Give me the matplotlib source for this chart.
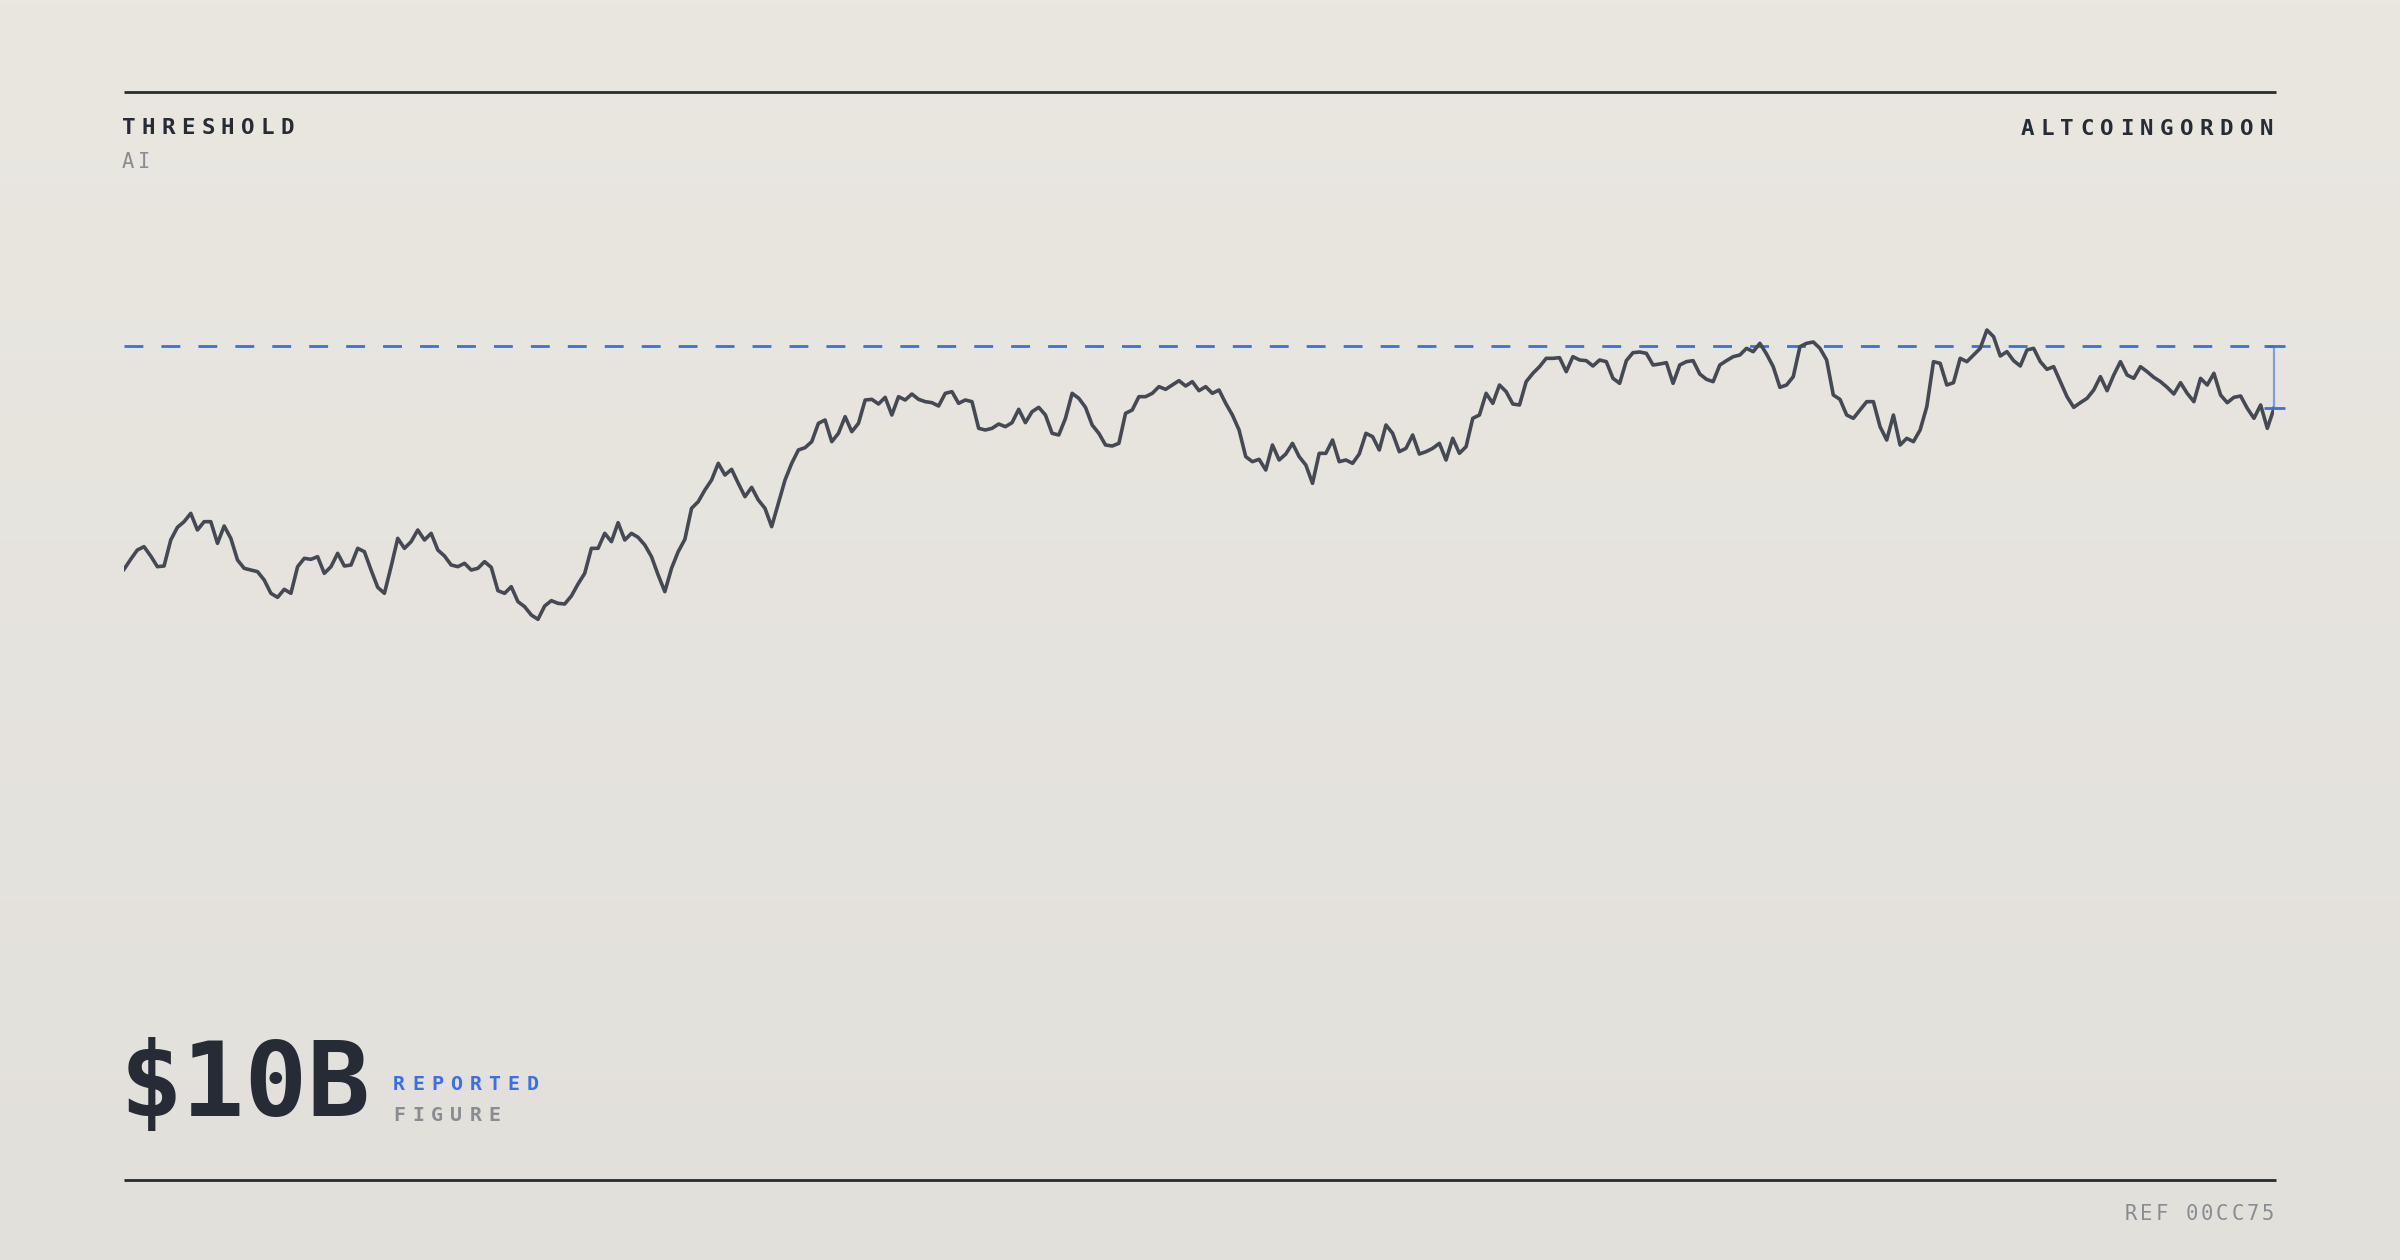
import numpy as np
import matplotlib
matplotlib.use("Agg")
import matplotlib.pyplot as plt

# series (arbitrary level units, threshold dashed line)
level = [
    21.2, 24.2, 27.0, 28.0, 25.2, 22.0, 22.2, 30.0, 33.8, 35.5, 38.0, 33.0, 35.5, 35.5, 29.0, 34.2, 30.5, 24.0,
    21.5, 21.0, 20.5, 18.0, 14.0, 12.8, 15.2, 14.0, 22.0, 24.5, 24.2, 25.0, 20.0, 22.0, 26.0, 22.2, 22.5, 27.5,
    26.5, 21.0, 15.8, 14.0, 22.0, 30.5, 27.5, 29.5, 33.0, 30.0, 32.0, 27.0, 25.2, 22.5, 22.0, 23.0, 21.0, 21.5,
    23.5, 21.8, 14.8, 14.0, 16.0, 11.5, 10.0, 7.5, 6.2, 10.2, 11.8, 11.0, 10.8, 13.2, 16.8, 20.0, 27.5, 27.5,
    32.0, 29.5, 35.2, 30.0, 32.0, 30.8, 28.5, 25.0, 19.5, 14.5, 21.5, 26.5, 30.2, 39.5, 41.5, 45.0, 48.0, 53.0,
    49.5, 51.2, 47.0, 43.0, 45.8, 42.0, 39.5, 34.0, 41.0, 48.0, 53.0, 57.0, 57.7, 59.5, 65.0, 66.0, 59.5, 62.0,
    67.0, 62.5, 65.0, 72.0, 72.2, 70.8, 72.8, 67.5, 73.0, 72.0, 73.8, 72.2, 71.5, 71.2, 70.2, 74.0, 74.5, 71.0,
    72.0, 71.5, 63.5, 63.0, 63.5, 64.8, 64.0, 65.2, 69.2, 65.2, 68.5, 69.8, 67.5, 62.0, 61.5, 66.5, 74.0, 72.5,
    69.8, 64.5, 62.0, 58.5, 58.2, 59.0, 68.0, 69.0, 73.0, 73.0, 74.0, 76.0, 75.2, 76.5, 77.8, 76.2, 77.5, 74.8,
    76.0, 74.0, 75.0, 71.0, 67.5, 63.0, 55.0, 53.5, 54.2, 51.0, 58.5, 54.0, 55.8, 59.0, 55.0, 52.5, 47.0, 56.0,
    56.0, 60.0, 53.5, 54.0, 53.0, 55.8, 62.0, 61.0, 57.0, 64.5, 62.0, 56.5, 57.5, 61.5, 55.8, 56.5, 57.5, 59.0,
    54.0, 60.5, 56.0, 58.0, 66.5, 67.5, 74.0, 71.0, 76.5, 74.5, 70.8, 70.5, 77.5, 80.0, 82.0, 84.5, 84.5, 84.7,
    80.5, 85.0, 84.0, 83.8, 82.2, 84.0, 83.5, 78.5, 77.0, 83.8, 86.2, 86.4, 86.0, 82.5, 82.8, 83.2, 77.0, 82.5,
    83.5, 83.8, 79.8, 78.2, 77.5, 82.5, 83.8, 85.0, 85.5, 87.5, 86.5, 89.0, 85.8, 82.0, 75.8, 76.5, 79.0, 88.0,
    89.0, 89.4, 87.5, 84.0, 73.5, 72.2, 67.5, 66.5, 69.0, 71.5, 71.5, 64.0, 60.0, 67.5, 58.5, 60.5, 59.5, 63.0,
    70.0, 83.5, 83.0, 76.5, 77.2, 84.5, 83.5, 85.5, 87.5, 93.0, 91.0, 85.2, 86.5, 83.8, 82.2, 87.0, 87.5, 83.5,
    81.2, 82.0, 77.5, 73.0, 69.8, 71.2, 72.5, 75.0, 79.0, 74.8, 79.5, 83.5, 79.5, 78.5, 82.0, 80.5, 78.8, 77.5,
    75.8, 73.8, 77.2, 74.0, 71.5, 78.5, 76.5, 80.0, 73.5, 71.2, 72.8, 73.2, 69.5, 66.5, 70.5, 63.5, 69.5,
]
threshold = 88.2

title_left = "THRESHOLD"
subtitle_left = "AI"
title_right = "ALTCOINGORDON"
big_value = "$10B"
value_label_1 = "REPORTED"
value_label_2 = "FIGURE"
ref_label = "REF 00CC75"

W, H, DPI = 2400, 1260, 200
INK = "#272b36"
LINE = "#454954"
BLUE = "#3b6fe3"
GREY = "#8a8c93"
MONO = "DejaVu Sans Mono"

fig = plt.figure(figsize=(W / DPI, H / DPI), dpi=DPI)

# background gradient
bg = fig.add_axes([0, 0, 1, 1], zorder=0)
top = np.array([234, 231, 225]) / 255
bot = np.array([226, 224, 219]) / 255
t = np.linspace(0, 1, 256)[:, None]
grad = top[None, :] * (1 - t) + bot[None, :] * t
bg.imshow(grad[:, None, :], aspect="auto", extent=[0, 1, 0, 1])
bg.set_axis_off()

# rules top and bottom
for ypix in (92, 1180):
    bg.plot([124 / W, 2276 / W], [1 - ypix / H, 1 - ypix / H], color=INK, lw=1.0, solid_capstyle="butt")
bg.set_xlim(0, 1)
bg.set_ylim(0, 1)


def tracked(x_px, y_px, s, size, pitch, color, weight="normal", ha="left"):
    # monospace text with letter spacing, drawn char by char
    adv = 0.602 * size * DPI / 72
    if ha == "right":
        x_px = x_px - (len(s) - 1) * pitch - adv
    for i, ch in enumerate(s):
        fig.text((x_px + i * pitch) / W, 1 - y_px / H, ch, fontsize=size, color=color,
                 fontweight=weight, family=MONO, va="baseline", ha="left")


tracked(122, 134, title_left, 8.1, 19.8, INK, "bold")
tracked(122, 168, subtitle_left, 7.4, 16, GREY)
tracked(2273, 135, title_right, 8.1, 19.9, INK, "bold", ha="right")
tracked(393, 1090, value_label_1, 7.2, 19.1, BLUE, "bold")
tracked(393, 1121, value_label_2, 7.2, 19.1, GREY, "bold")
tracked(2274, 1220, ref_label, 7.4, 15.2, GREY, ha="right")
fig.text(120 / W, 1 - 1116 / H, big_value, fontsize=37.5, color=INK, fontweight="bold",
         family=MONO, va="baseline", ha="left")

# chart
ax = fig.add_axes([124 / W, 1 - 640 / H, 2150 / W, 340 / H], zorder=2)
ax.patch.set_alpha(0)
x = np.arange(len(level))
ax.plot(x, level, color=LINE, lw=1.3, solid_joinstyle="round", zorder=3)
ax.axhline(threshold, color=BLUE, lw=1.0, dashes=(6.8, 6.5), zorder=2)

last = len(level) - 1
ax.vlines(last, level[-1], threshold, color=BLUE, alpha=0.6, lw=0.8, zorder=4, clip_on=False)
ax.hlines([threshold, level[-1]], last - 1.5, last + 1.6, color=BLUE, lw=1.0, zorder=4, clip_on=False)

ax.set_xlim(0, last)
ax.set_ylim(0, 102)
ax.set_axis_off()

fig.savefig("out.png", dpi=DPI)
